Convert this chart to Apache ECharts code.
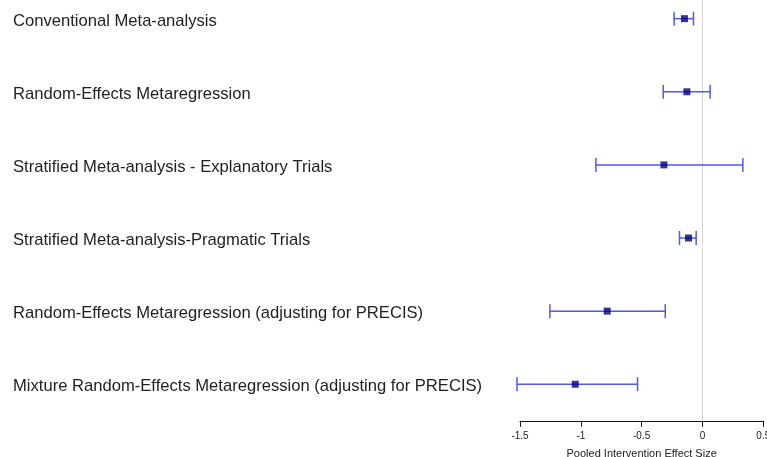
<!DOCTYPE html>
<html>
<head>
<meta charset="utf-8">
<script src="https://cdn.jsdelivr.net/npm/echarts@6/dist/echarts.min.js"></script>
<style>html,body{margin:0;padding:0;background:#fff;}#c{width:767px;height:457px;}</style>
</head>
<body>
<div id="c"></div>
<script>
const categories = [
  "Conventional Meta-analysis",
  "Random-Effects Metaregression",
  "Stratified Meta-analysis - Explanatory Trials",
  "Stratified Meta-analysis-Pragmatic Trials",
  "Random-Effects Metaregression (adjusting for PRECIS)",
  "Mixture Random-Effects Metaregression (adjusting for PRECIS)"
];
const estimates = [-0.148, -0.128, -0.317, -0.115, -0.783, -1.046];
const lowerCI = [-0.233, -0.323, -0.876, -0.189, -1.254, -1.525];
const upperCI = [-0.074, 0.063, 0.332, -0.052, -0.306, -0.534];
const xTicks = [-1.5, -1, -0.5, 0, 0.5];

const FONT = '"Liberation Sans", Arial, sans-serif';
const chart = echarts.init(document.getElementById('c'));
chart.setOption({
  animation: false,
  backgroundColor: '#fff',
  grid: { left: 520, right: 3.7, top: -17.9, bottom: 36.2, containLabel: false, outerBoundsMode: 'none' },
  xAxis: {
    type: 'value', min: -1.5, max: 0.5, interval: 0.5,
    axisLine: { show: true, lineStyle: { color: '#111', width: 1 } },
    axisTick: { show: true, length: 6, lineStyle: { color: '#111' } },
    splitLine: { show: false },
    axisLabel: { fontFamily: FONT, fontSize: 10, color: '#222', margin: 10,
      formatter: v => xTicks.includes(v) ? String(v) : '' },
    name: 'Pooled Intervention Effect Size',
    nameLocation: 'middle', nameGap: 28,
    nameTextStyle: { fontFamily: FONT, fontSize: 11, color: '#222' }
  },
  yAxis: {
    type: 'category', data: categories, inverse: true,
    axisLine: { show: false }, axisTick: { show: false }, splitLine: { show: false },
    axisLabel: { align: 'left', margin: 507, fontFamily: FONT, fontSize: 16.6, color: '#1e1e1e',
      verticalAlign: 'top', lineHeight: 5 }
  },
  series: [
    {
      type: 'custom',
      data: categories.map((c, i) => [i, lowerCI[i], upperCI[i]]),
      encode: { x: [1, 2], y: 0 },
      renderItem: function (params, api) {
        const cat = api.value(0);
        const lo = api.coord([api.value(1), cat]);
        const hi = api.coord([api.value(2), cat]);
        const h = 7;
        const st = { stroke: '#4a5af2', lineWidth: 1.5 };
        return {
          type: 'group',
          children: [
            { type: 'line', shape: { x1: lo[0], y1: lo[1], x2: hi[0], y2: hi[1] }, style: st },
            { type: 'line', shape: { x1: lo[0], y1: lo[1] - h, x2: lo[0], y2: lo[1] + h }, style: st },
            { type: 'line', shape: { x1: hi[0], y1: hi[1] - h, x2: hi[0], y2: hi[1] + h }, style: st }
          ]
        };
      },
      z: 3
    },
    {
      type: 'scatter',
      data: estimates.map((v, i) => [v, i]),
      symbol: 'rect', symbolSize: 7,
      itemStyle: { color: '#00007a' },
      z: 4,
      markLine: {
        silent: true, symbol: 'none', label: { show: false },
        lineStyle: { color: '#d4d4d4', width: 1, type: 'solid' },
        data: [{ xAxis: 0 }],
        z: 1
      }
    }
  ]
});
</script>
</body>
</html>
